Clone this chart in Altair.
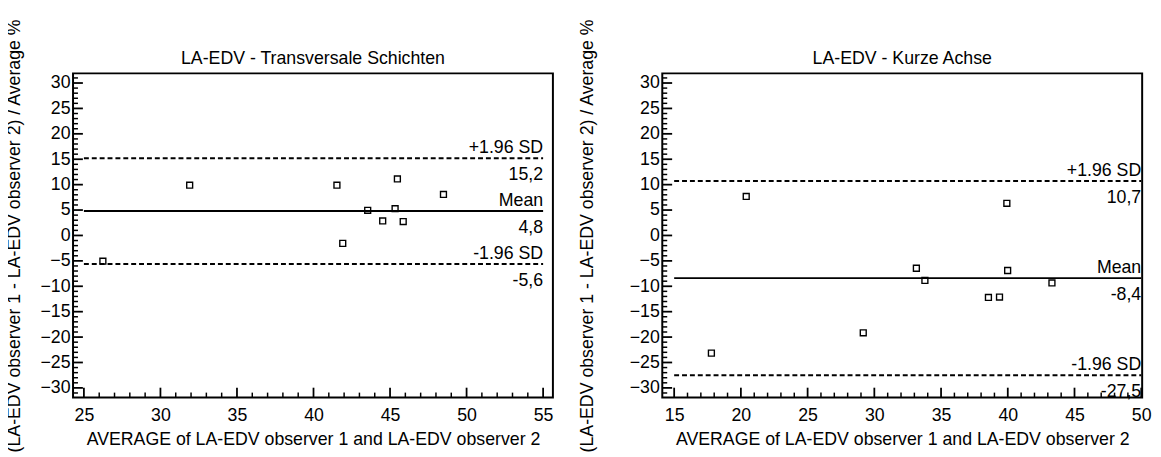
import altair as alt
import pandas as pd

FONT = "Liberation Sans"

# ---------------- data: panel 1 ----------------
p1_title = "LA-EDV - Transversale Schichten"
p1_avg = [26.24, 31.91, 41.53, 41.91, 43.54, 44.52, 45.33, 45.48, 45.86, 48.49]
p1_diff = [-5.07, 9.89, 9.89, -1.56, 4.94, 2.86, 5.27, 11.13, 2.73, 8.07]
p1_mean = 4.8
p1_upper = 15.2
p1_lower = -5.6
p1_xticks = [25, 30, 35, 40, 45, 50, 55]
p1_xdomain = [24.29, 55.64]

# ---------------- data: panel 2 ----------------
p2_title = "LA-EDV - Kurze Achse"
p2_avg = [17.79, 20.40, 29.17, 33.15, 33.79, 38.55, 39.38, 39.93, 39.99, 43.31]
p2_diff = [-23.16, 7.68, -19.16, -6.45, -8.84, -12.19, -12.13, 6.32, -6.90, -9.35]
p2_mean = -8.4
p2_upper = 10.7
p2_lower = -27.5
p2_xticks = [15, 20, 25, 30, 35, 40, 45, 50]
p2_xdomain = [14.11, 50.07]

y_ticks = [-30, -25, -20, -15, -10, -5, 0, 5, 10, 15, 20, 25, 30]
y_domain = [-31.9, 31.9]
line_labels = ["+1.96 SD", "Mean", "-1.96 SD"]

x_title = "AVERAGE of LA-EDV observer 1 and LA-EDV observer 2"
y_title = "(LA-EDV observer 1 - LA-EDV observer 2) / Average %"

W, H = 487, 329
MAJOR_PX, MINOR_PX = 10, 5


def fmt(v):
    return f"{v:.1f}".replace(".", ",")


def panel(title, avg, diff, mean, upper, lower, xticks, xdomain, ytitle_pad):
    xs = alt.Scale(domain=xdomain, nice=False, zero=False)
    ys = alt.Scale(domain=y_domain, nice=False, zero=False)

    common = dict(ticks=False, tickSize=0, domain=False, grid=False,
                  labelFontSize=18, titleFontSize=18, labelFont=FONT, titleFont=FONT,
                  labelColor="black", titleColor="black", titleFontWeight="normal")
    xaxis = alt.Axis(values=xticks, title=x_title, labelPadding=9, titlePadding=7,
                     labelFlush=False, **common)
    yaxis = alt.Axis(values=y_ticks, title=y_title, labelPadding=3,
                     titlePadding=ytitle_pad, **common)

    def X(f="x"):
        return alt.X(f"{f}:Q", scale=xs, axis=xaxis)

    def Y(f="y"):
        return alt.Y(f"{f}:Q", scale=ys, axis=yaxis)

    # pixel length of tick marks converted to data units of each scale
    ux = (xdomain[1] - xdomain[0]) / W
    uy = (y_domain[1] - y_domain[0]) / H

    y_minor = [v for v in range(-31, 32) if v % 5 != 0]
    x_minor = [v for v in range(xticks[0], xticks[-1] + 1) if v % 5 != 0]

    def yticks(vals, px, width):
        df = pd.DataFrame({"x": [xdomain[0]] * len(vals),
                           "x2": [xdomain[0] + px * ux] * len(vals), "y": vals})
        return alt.Chart(df).mark_rule(color="black", strokeWidth=width).encode(
            x=X(), x2="x2:Q", y=Y())

    def xticks_(vals, px, width):
        df = pd.DataFrame({"x": vals, "y": [y_domain[0]] * len(vals),
                           "y2": [y_domain[0] + px * uy] * len(vals)})
        return alt.Chart(df).mark_rule(color="black", strokeWidth=width).encode(
            x=X(), y=Y(), y2="y2:Q")

    t_ymaj = yticks(y_ticks, MAJOR_PX, 1.8)
    t_ymin = yticks(y_minor, MINOR_PX, 1.5)
    t_xmaj = xticks_(xticks, MAJOR_PX, 1.8)
    t_xmin = xticks_(x_minor, MINOR_PX, 1.5)

    pts = pd.DataFrame({"x": avg, "y": diff})
    points = alt.Chart(pts).mark_point(
        shape="square", filled=False, size=36, stroke="black", strokeWidth=1.4, opacity=1
    ).encode(x=X(), y=Y())

    x0, x1 = xticks[0], xticks[-1]
    lims = pd.DataFrame({"x": [x0, x0], "x2": [x1, x1], "y": [upper, lower]})
    dashed = alt.Chart(lims).mark_rule(color="black", strokeWidth=2, strokeDash=[5, 3]).encode(
        x=X(), x2="x2:Q", y=Y())
    mline = pd.DataFrame({"x": [x0], "x2": [x1], "y": [mean]})
    solid = alt.Chart(mline).mark_rule(color="black", strokeWidth=2).encode(
        x=X(), x2="x2:Q", y=Y())

    lab = pd.DataFrame({"x": [x1] * 3, "y": [upper, mean, lower],
                        "top": line_labels, "bottom": [fmt(v) for v in (upper, mean, lower)]})
    above = alt.Chart(lab).mark_text(align="right", baseline="alphabetic", dy=-5,
                                     fontSize=18, font=FONT, color="black").encode(
        x=X(), y=Y(), text="top:N")
    below = alt.Chart(lab).mark_text(align="right", baseline="alphabetic", dy=22,
                                     fontSize=18, font=FONT, color="black").encode(
        x=X(), y=Y(), text="bottom:N")

    head = alt.Chart(pd.DataFrame({"t": [title]})).mark_text(
        align="center", baseline="alphabetic", fontSize=18, font=FONT, color="black").encode(
        text="t:N", x=alt.value(W / 2), y=alt.value(-9))

    return alt.layer(dashed, solid, points, above, below, head,
                     t_ymaj, t_ymin, t_xmaj, t_xmin).properties(width=W, height=H)


left = panel(p1_title, p1_avg, p1_diff, p1_mean, p1_upper, p1_lower, p1_xticks, p1_xdomain, 17)
right = panel(p2_title, p2_avg, p2_diff, p2_mean, p2_upper, p2_lower, p2_xticks, p2_xdomain, 33)

chart = alt.hconcat(left, right, spacing=23).properties(
    padding={"left": -4, "top": 6, "right": 0, "bottom": 0},
    background="white",
).configure_view(stroke="black", strokeWidth=2)

chart.save("out.html", embed_options={"renderer": "svg", "actions": False})
